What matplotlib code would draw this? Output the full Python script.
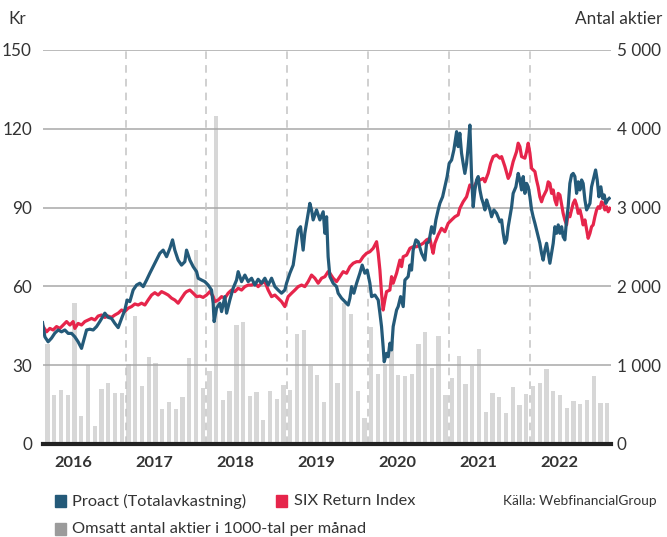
import numpy as np
import matplotlib
matplotlib.use("Agg")
import matplotlib.pyplot as plt
from matplotlib.patches import Rectangle
from matplotlib.ticker import FuncFormatter

plt.rcParams['font.family'] = ['Lato', 'DejaVu Sans']

# monthly turnover, thousands of shares (Sep 2015 .. Aug 2022)
volume = [1270, 620, 685, 620, 1790, 355, 1000, 228, 695, 770, 645, 645,
          1015, 1620, 735, 1100, 1030, 445, 530, 445, 595, 1090, 2460, 710,
          925, 4165, 560, 670, 1510, 1550, 610, 665, 305, 675, 570, 750,
          690, 1400, 1450, 990, 880, 535, 1865, 775, 1790, 1650, 675, 330,
          1480, 890, 1020, 1310, 880, 860, 890, 1270, 1420, 965, 1370, 620,
          835, 1115, 760, 990, 1200, 405, 645, 595, 390, 720, 495, 635,
          735, 775, 950, 670, 620, 455, 545, 505, 555, 860, 520, 520]
vol_start = 2015 + 8.5 / 12

# Proact total return (Kr), decimal year / value
proact_t = [2015.646, 2015.675, 2015.715, 2015.757, 2015.798, 2015.839, 2015.881, 2015.922,
            2015.963, 2016.005, 2016.045, 2016.086, 2016.128, 2016.190, 2016.231, 2016.272,
            2016.314, 2016.354, 2016.395, 2016.416, 2016.457, 2016.499, 2016.540, 2016.581,
            2016.623, 2016.663, 2016.692, 2016.725, 2016.766, 2016.808, 2016.849, 2016.890,
            2016.932, 2016.972, 2017.013, 2017.055, 2017.096, 2017.137, 2017.179, 2017.220,
            2017.253, 2017.281, 2017.322, 2017.364, 2017.405, 2017.426, 2017.446, 2017.467,
            2017.508, 2017.550, 2017.570, 2017.612, 2017.652, 2017.693, 2017.735, 2017.755,
            2017.767, 2017.797, 2017.838, 2017.859, 2017.900, 2017.921, 2017.961, 2018.002,
            2018.044, 2018.064, 2018.106, 2018.147, 2018.188, 2018.230, 2018.270, 2018.311,
            2018.353, 2018.394, 2018.435, 2018.477, 2018.518, 2018.558, 2018.600, 2018.641,
            2018.662, 2018.703, 2018.744, 2018.777, 2018.806, 2018.835, 2018.867, 2018.888,
            2018.922, 2018.950, 2018.971, 2018.991, 2019.033, 2019.074, 2019.115, 2019.136,
            2019.157, 2019.176, 2019.198, 2019.238, 2019.280, 2019.300, 2019.342, 2019.383,
            2019.424, 2019.445, 2019.466, 2019.494, 2019.528, 2019.568, 2019.597, 2019.630,
            2019.659, 2019.692, 2019.713, 2019.754, 2019.795, 2019.816, 2019.836, 2019.856,
            2019.869, 2019.898, 2019.918, 2019.939, 2019.960, 2019.980, 2020.022, 2020.042,
            2020.072, 2020.104, 2020.125, 2020.165, 2020.187, 2020.207, 2020.227, 2020.261,
            2020.289, 2020.331, 2020.372, 2020.393, 2020.422, 2020.455, 2020.483, 2020.508,
            2020.536, 2020.557, 2020.591, 2020.619, 2020.647, 2020.672, 2020.702, 2020.730,
            2020.764, 2020.783, 2020.804, 2020.825, 2020.845, 2020.866, 2020.887, 2020.907,
            2020.928, 2020.949, 2020.969, 2020.990, 2021.011, 2021.031, 2021.052, 2021.073,
            2021.093, 2021.114, 2021.135, 2021.154, 2021.176, 2021.196, 2021.225, 2021.258,
            2021.299, 2021.320, 2021.340, 2021.361, 2021.382, 2021.402, 2021.423, 2021.444,
            2021.463, 2021.497, 2021.525, 2021.546, 2021.567, 2021.587, 2021.608, 2021.629,
            2021.649, 2021.670, 2021.691, 2021.710, 2021.732, 2021.752, 2021.772, 2021.793,
            2021.814, 2021.834, 2021.855, 2021.876, 2021.896, 2021.917, 2021.938, 2021.958,
            2021.979, 2022.000, 2022.020, 2022.041, 2022.062, 2022.081, 2022.102, 2022.123,
            2022.143, 2022.164, 2022.185, 2022.205, 2022.226, 2022.247, 2022.267, 2022.288,
            2022.309, 2022.328, 2022.350, 2022.371, 2022.390, 2022.412, 2022.432, 2022.452,
            2022.482, 2022.502, 2022.523, 2022.547, 2022.568, 2022.588, 2022.609, 2022.630,
            2022.650]
proact_v = [46.2, 40.8, 38.9, 40.3, 42.2, 43.4, 42.7, 43.4,
            42.1, 42.1, 40.8, 38.9, 36.4, 43.4, 43.7, 43.4,
            44.7, 46.6, 48.7, 49.8, 48.2, 47.8, 45.9, 44.3,
            47.8, 51.0, 54.8, 54.2, 58.6, 60.5, 61.2, 59.9,
            62.4, 65.0, 67.5, 70.0, 72.6, 73.8, 71.3, 74.5,
            77.7, 73.8, 70.0, 68.1, 69.4, 73.8, 71.9, 70.0,
            67.5, 65.6, 63.1, 62.4, 61.8, 60.5, 58.6, 53.6,
            46.6, 51.7, 53.6, 50.4, 56.1, 49.8, 54.8, 59.3,
            62.4, 65.6, 61.8, 64.3, 61.8, 63.1, 60.5, 62.7,
            61.2, 63.1, 60.5, 63.1, 59.9, 58.6, 57.4, 58.6,
            61.2, 65.0, 68.1, 75.1, 81.5, 82.7, 73.8, 80.2,
            86.5, 91.6, 89.1, 85.3, 89.1, 85.3, 88.4, 80.2,
            86.5, 71.3, 63.7, 61.2, 59.9, 57.4, 55.5, 54.2,
            52.9, 55.5, 59.9, 57.4, 61.2, 65.0, 68.1, 65.0,
            66.2, 61.2, 56.1, 56.7, 54.8, 49.8, 44.7, 37.0,
            31.3, 34.5, 33.2, 38.3, 35.8, 44.7, 51.0, 52.3,
            56.1, 52.3, 62.4, 63.7, 68.1, 66.2, 73.8, 77.7,
            77.0, 72.6, 70.0, 76.4, 77.0, 82.7, 80.2, 85.3,
            89.1, 91.6, 94.1, 97.9, 101.8, 106.8, 108.1, 111.9,
            118.9, 113.2, 118.3, 110.7, 106.8, 103.0, 106.8, 113.2,
            121.4, 101.8, 90.3, 96.7, 100.5, 101.8, 96.7, 93.5,
            91.6, 89.1, 92.9, 91.0, 89.1, 86.5, 89.1, 87.8,
            84.6, 85.3, 80.2, 76.4, 77.7, 82.7, 86.5, 90.3,
            95.4, 97.9, 103.0, 100.5, 96.7, 101.8, 95.4, 99.2,
            97.9, 94.1, 89.1, 86.5, 84.0, 81.5, 78.9, 76.4,
            72.6, 70.0, 73.8, 76.4, 72.6, 68.8, 72.6, 76.4,
            82.7, 80.2, 83.4, 80.2, 82.7, 78.9, 77.7, 85.3,
            90.3, 99.2, 102.4, 103.0, 101.8, 95.4, 99.8, 96.7,
            100.5, 99.2, 92.9, 89.1, 90.3, 91.6, 97.9, 100.5,
            104.3, 100.5, 94.1, 97.9, 93.5, 94.8, 91.6, 92.9,
            93.5]

# SIX Return Index, rebased to Kr
six_t = [2015.654, 2015.696, 2015.736, 2015.777, 2015.819, 2015.860, 2015.901, 2015.943,
         2015.984, 2016.024, 2016.045, 2016.086, 2016.128, 2016.169, 2016.210, 2016.252,
         2016.293, 2016.333, 2016.375, 2016.416, 2016.457, 2016.499, 2016.540, 2016.581,
         2016.623, 2016.663, 2016.704, 2016.746, 2016.787, 2016.828, 2016.870, 2016.911,
         2016.951, 2016.994, 2017.034, 2017.075, 2017.117, 2017.158, 2017.199, 2017.241,
         2017.281, 2017.322, 2017.364, 2017.405, 2017.426, 2017.467, 2017.508, 2017.550,
         2017.591, 2017.631, 2017.673, 2017.714, 2017.755, 2017.776, 2017.817, 2017.859,
         2017.900, 2017.940, 2017.982, 2018.023, 2018.064, 2018.106, 2018.147, 2018.188,
         2018.230, 2018.270, 2018.311, 2018.353, 2018.394, 2018.435, 2018.477, 2018.518,
         2018.558, 2018.600, 2018.641, 2018.682, 2018.724, 2018.765, 2018.806, 2018.848,
         2018.888, 2018.929, 2018.971, 2019.012, 2019.053, 2019.095, 2019.136, 2019.176,
         2019.198, 2019.238, 2019.280, 2019.321, 2019.362, 2019.404, 2019.445, 2019.486,
         2019.528, 2019.568, 2019.609, 2019.651, 2019.692, 2019.733, 2019.775, 2019.795,
         2019.816, 2019.836, 2019.856, 2019.877, 2019.898, 2019.939, 2019.960, 2019.980,
         2020.022, 2020.063, 2020.084, 2020.104, 2020.146, 2020.187, 2020.227, 2020.269,
         2020.310, 2020.351, 2020.393, 2020.434, 2020.455, 2020.474, 2020.495, 2020.536,
         2020.578, 2020.619, 2020.660, 2020.702, 2020.743, 2020.783, 2020.804, 2020.845,
         2020.887, 2020.928, 2020.969, 2021.011, 2021.052, 2021.093, 2021.114, 2021.154,
         2021.184, 2021.216, 2021.258, 2021.299, 2021.320, 2021.361, 2021.402, 2021.423,
         2021.463, 2021.505, 2021.525, 2021.546, 2021.567, 2021.608, 2021.629, 2021.649,
         2021.670, 2021.691, 2021.732, 2021.752, 2021.772, 2021.793, 2021.814, 2021.834,
         2021.876, 2021.896, 2021.917, 2021.938, 2021.958, 2021.979, 2022.000, 2022.020,
         2022.041, 2022.062, 2022.081, 2022.102, 2022.123, 2022.143, 2022.164, 2022.185,
         2022.205, 2022.226, 2022.247, 2022.267, 2022.288, 2022.309, 2022.328, 2022.350,
         2022.371, 2022.390, 2022.412, 2022.432, 2022.452, 2022.473, 2022.494, 2022.514,
         2022.535, 2022.556, 2022.576, 2022.597, 2022.618, 2022.638, 2022.659]
six_v = [44.7, 42.7, 44.0, 43.4, 44.7, 44.0, 45.3, 46.6,
         45.3, 46.6, 44.0, 45.9, 45.3, 46.6, 47.2, 47.8,
         47.2, 48.7, 49.1, 48.2, 48.7, 48.2, 49.1, 49.8,
         51.0, 50.4, 51.7, 52.3, 53.3, 52.9, 53.6, 52.9,
         54.8, 56.7, 57.6, 56.7, 58.0, 57.4, 56.7, 55.5,
         54.8, 53.6, 55.5, 57.4, 58.0, 58.6, 57.4, 56.1,
         56.3, 55.8, 56.7, 58.0, 56.1, 54.2, 54.8, 56.1,
         55.5, 57.4, 58.6, 58.0, 59.3, 58.6, 59.9, 60.5,
         60.5, 61.2, 59.9, 61.2, 61.8, 58.6, 56.1, 56.7,
         55.5, 54.2, 52.3, 56.1, 57.4, 58.6, 59.9, 60.5,
         59.9, 61.8, 64.3, 63.1, 61.2, 63.1, 63.7, 65.6,
         65.0, 63.1, 61.8, 63.7, 65.6, 65.0, 67.5, 68.8,
         69.4, 69.4, 71.3, 72.6, 73.2, 74.5, 77.0, 72.6,
         66.2, 57.4, 51.0, 54.8, 58.0, 58.6, 63.7, 61.2,
         65.0, 70.0, 67.5, 71.3, 71.9, 74.5, 75.1, 75.1,
         75.7, 76.4, 77.7, 78.3, 75.1, 72.6, 76.4, 79.6,
         82.1, 80.8, 84.0, 85.3, 86.5, 87.2, 89.7, 92.2,
         94.1, 98.6, 97.3, 99.8, 100.5, 101.1, 99.8, 103.0,
         106.8, 109.4, 110.0, 108.8, 109.4, 105.6, 101.1, 102.4,
         107.5, 111.3, 114.5, 113.2, 109.4, 108.8, 111.3, 114.5,
         110.7, 104.9, 103.7, 100.5, 97.9, 94.1, 92.2, 94.1,
         96.7, 99.8, 99.2, 95.4, 96.7, 92.9, 91.0, 95.4,
         94.8, 91.0, 87.8, 85.3, 83.4, 87.8, 86.5, 89.1,
         91.6, 92.9, 91.0, 87.8, 89.1, 86.5, 83.4, 85.3,
         81.5, 78.3, 80.2, 82.7, 83.4, 86.5, 89.1, 90.3,
         89.7, 92.2, 91.6, 89.1, 90.3, 88.4, 89.7]

years = [2016, 2017, 2018, 2019, 2020, 2021, 2022]
period_marks = [2016.672, 2017.672, 2018.672, 2019.672, 2020.672, 2021.672]

blue = '#245a79'
red = '#e6254b'
bar_grey = '#d7d7d7'
txt = '#333333'

fig = plt.figure(figsize=(6.67, 5.37), dpi=100)
ax = fig.add_axes([0.0645, 0.1732, 0.8515, 0.7338])
ax2 = ax.twinx()

# bars on the share axis (drawn underneath)
bar_x = vol_start + np.arange(len(volume)) / 12
ax.bar(bar_x, volume, width=0.053, color=bar_grey, zorder=1)
ax.set_ylim(0, 5000)
ax.yaxis.tick_right()
ax.set_yticks(range(0, 5001, 1000))
ax.yaxis.set_major_formatter(FuncFormatter(lambda v, p: f"{int(v):,}".replace(",", " ")))

# price lines on the Kr axis
ax2.set_ylim(0, 150)
ax2.yaxis.tick_left()
ax2.set_yticks([0, 30, 60, 90, 120, 150])
for g in [30, 60, 90, 120, 150]:
    ax2.axhline(g, color='#a8a8a8', lw=1.1, zorder=1)
for d in period_marks:
    ax2.axvline(d, color='#c4c4c4', lw=1.1, ls=(0, (5, 4)), zorder=1)
ax2.plot(six_t, six_v, color=red, lw=2.3, zorder=3)
ax2.plot(proact_t, proact_v, color=blue, lw=2.3, zorder=4)
ax2.axhline(0, color='#222222', lw=3, zorder=5, clip_on=False)

ax.set_xlim(2015.652, 2022.672)
ax.set_xticks([y + 0.03 for y in years])
ax.set_xticklabels([str(y) for y in years], fontweight='bold')

for a in (ax, ax2):
    for s in a.spines.values():
        s.set_visible(False)
    a.tick_params(length=0, colors=txt, labelsize=12.3)
ax.tick_params(axis='x', pad=9, labelsize=11.8)
ax.tick_params(axis='y', pad=4)
ax2.tick_params(axis='y', pad=8)

fig.text(0.012, 0.965, "Kr", fontsize=12.3, color=txt, va='center')
fig.text(0.993, 0.965, "Antal aktier", fontsize=12.3, color=txt, va='center', ha='right')

# legend
def swatch(x, y, c):
    fig.patches.append(Rectangle((x / 667, 1 - (y + 6) / 537), 11 / 667, 12 / 537,
                                 transform=fig.transFigure, color=c))

swatch(55, 501, blue)
fig.text(72 / 667, 1 - 501 / 537, "Proact (Totalavkastning)", fontsize=11.8, color=txt, va='center')
swatch(276, 501, red)
fig.text(294 / 667, 1 - 501 / 537, "SIX Return Index", fontsize=11.8, color=txt, va='center')
fig.text(657 / 667, 1 - 501 / 537, "Källa: WebfinancialGroup", fontsize=9.8, color=txt,
         va='center', ha='right')
swatch(55, 529, '#9b9b9b')
fig.text(72 / 667, 1 - 529 / 537, "Omsatt antal aktier i 1000-tal per månad", fontsize=11.8,
         color=txt, va='center')

fig.savefig("out.png", dpi=100)
